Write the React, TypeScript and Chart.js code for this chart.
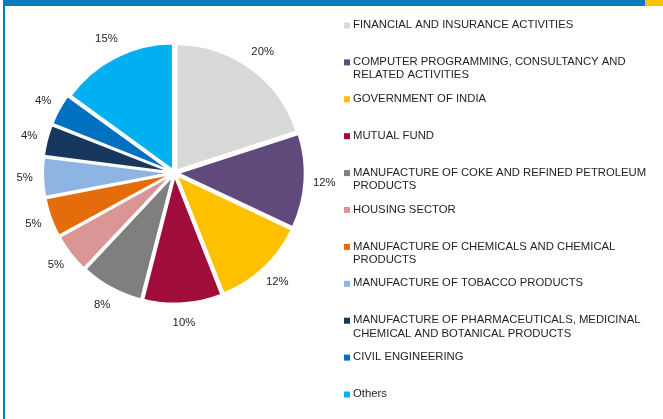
import React, { useEffect, useRef } from "react";
import { Chart, registerables } from "chart.js";

Chart.register(...registerables);

// Sector names, share of exposure (%) and slice colours
const sectors = [
  "FINANCIAL AND INSURANCE ACTIVITIES",
  "COMPUTER PROGRAMMING, CONSULTANCY AND RELATED ACTIVITIES",
  "GOVERNMENT OF INDIA",
  "MUTUAL FUND",
  "MANUFACTURE OF COKE AND REFINED PETROLEUM PRODUCTS",
  "HOUSING SECTOR",
  "MANUFACTURE OF CHEMICALS AND CHEMICAL PRODUCTS",
  "MANUFACTURE OF TOBACCO PRODUCTS",
  "MANUFACTURE OF PHARMACEUTICALS, MEDICINAL CHEMICAL AND BOTANICAL PRODUCTS",
  "CIVIL ENGINEERING",
  "Others",
];

const shares = [20, 12, 12, 10, 8, 5, 5, 5, 4, 4, 15];

const sliceColors = [
  "#d9d9d9",
  "#604a7b",
  "#ffc000",
  "#a10d3b",
  "#7f7f7f",
  "#d99694",
  "#e46c0a",
  "#8eb4e3",
  "#17375e",
  "#0070c0",
  "#00b0f0",
];

const FONT = '"Liberation Sans", Arial, sans-serif';
const TEXT_COLOR = "#1f1f1f";

// Percentage labels just outside each slice
const pieLabels = {
  id: "pieLabels",
  afterDatasetsDraw(chart: any) {
    const { ctx } = chart;
    const meta = chart.getDatasetMeta(0);
    ctx.save();
    ctx.font = `11.3px ${FONT}`;
    ctx.fillStyle = TEXT_COLOR;
    ctx.textAlign = "center";
    ctx.textBaseline = "middle";
    meta.data.forEach((arc: any, i: number) => {
      const { x, y, startAngle, endAngle, outerRadius } = arc.getProps(
        ["x", "y", "startAngle", "endAngle", "outerRadius"],
        true
      );
      const mid = (startAngle + endAngle) / 2;
      const r = outerRadius + 24;
      ctx.fillText(`${shares[i]}%`, x + Math.cos(mid) * r, y + Math.sin(mid) * r);
    });
    ctx.restore();
  },
};

// Legend column on the right with wrapped sector names
const sideLegend = {
  id: "sideLegend",
  afterDraw(chart: any) {
    const { ctx } = chart;
    const left = 344;
    const textX = 353;
    const top = 25;
    const step = 36.9;
    const lineH = 13.2;
    const maxW = 298;
    ctx.save();
    ctx.font = `11.3px ${FONT}`;
    ctx.textAlign = "left";
    ctx.textBaseline = "middle";
    sectors.forEach((name, i) => {
      const y = top + i * step;
      ctx.fillStyle = sliceColors[i];
      ctx.fillRect(left, y - 2.5, 6, 6);
      const words = name.split(" ");
      const lines: string[] = [];
      let cur = "";
      words.forEach((w) => {
        const test = cur ? cur + " " + w : w;
        if (cur && ctx.measureText(test).width > maxW) {
          lines.push(cur);
          cur = w;
        } else {
          cur = test;
        }
      });
      if (cur) lines.push(cur);
      ctx.fillStyle = TEXT_COLOR;
      lines.forEach((ln, k) => ctx.fillText(ln, textX, y + k * lineH));
    });
    ctx.restore();
  },
};

export default function App() {
  const canvasRef = useRef<HTMLCanvasElement | null>(null);

  useEffect(() => {
    document.body.style.margin = "0";
    const canvas = canvasRef.current;
    if (!canvas) return;
    const chart = new Chart(canvas, {
      type: "pie",
      data: {
        labels: sectors,
        datasets: [
          {
            data: shares,
            backgroundColor: sliceColors,
            borderColor: "#ffffff",
            borderWidth: 2,
            offset: 13,
          },
        ],
      },
      options: {
        responsive: false,
        animation: false,
        devicePixelRatio: 1,
        radius: 126,
        layout: { padding: { left: 44, right: 358, top: 42, bottom: 115 } },
        plugins: {
          legend: { display: false },
          tooltip: { enabled: false },
        },
      } as any,
      plugins: [pieLabels, sideLegend],
    });
    return () => chart.destroy();
  }, []);

  return (
    <div style={{ position: "relative", width: 663, height: 419, background: "#ffffff", overflow: "hidden" }}>
      <canvas ref={canvasRef} width={663} height={419} style={{ display: "block", width: 663, height: 419 }} />
      <div style={{ position: "absolute", left: 3, top: 0, width: 642, height: 6, background: "#0a7bc1" }} />
      <div style={{ position: "absolute", left: 645, top: 0, width: 18, height: 6, background: "#ffc000" }} />
      <div style={{ position: "absolute", left: 3, top: 0, width: 2, height: 419, background: "#0a7bc1" }} />
    </div>
  );
}
